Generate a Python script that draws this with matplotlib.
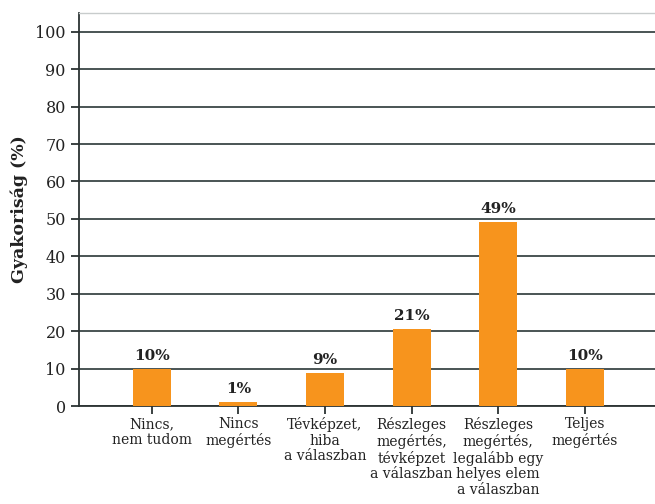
import matplotlib
matplotlib.use("Agg")
import matplotlib.pyplot as plt
import numpy as np

categories = ["Nincs,\nnem tudom", "Nincs\nmegértés", "Tévképzet,\nhiba\na válaszban",
              "Részleges\nmegértés,\ntévképzet\na válaszban",
              "Részleges\nmegértés,\nlegalább egy\nhelyes elem\na válaszban",
              "Teljes\nmegértés"]
values = [10, 1.1, 8.8, 20.6, 49.2, 10]
value_labels = ["10%", "1%", "9%", "21%", "49%", "10%"]
yticks = [0, 10, 20, 30, 40, 50, 60, 70, 80, 90, 100]

plt.rcParams['font.family'] = ['DejaVu Serif']

fig = plt.figure(figsize=(6.55, 5.04), dpi=100)
ax = fig.add_axes([0.1206, 0.1944, 0.8794, 0.7796])

x = np.arange(len(categories))
ax.bar(x, values, width=0.44, color='#f7941d', zorder=3)
for xi, v, lab in zip(x, values, value_labels):
    ax.text(xi, v + 1.5, lab, ha='center', va='bottom', fontsize=11,
            fontweight='bold', color='#222222')

ax.set_ylim(0, 105)
ax.set_xlim(-0.84, 5.81)
ax.set_yticks(yticks)
ax.yaxis.grid(True, color='#3b4646', linewidth=1.3, zorder=0)
ax.set_xticks(x)
ax.set_xticklabels(categories, fontsize=10, linespacing=1.15, color='#222222')
ax.tick_params(axis='y', labelsize=11.5, length=6, width=1.3, color='#2b3333',
               labelcolor='#222222')
ax.tick_params(axis='x', length=6, width=1.3, color='#2b3333', pad=2)

for side in ['left', 'bottom']:
    ax.spines[side].set_color('#2b3333')
    ax.spines[side].set_linewidth(1.3)
ax.spines['top'].set_color('#c8cccc')
ax.spines['top'].set_linewidth(1.0)
ax.spines['right'].set_visible(False)

ax.set_ylabel('Gyakoriság (%)', fontsize=12.5, fontweight='bold', color='#222222',
              labelpad=5)

fig.savefig('out.png', dpi=100)
